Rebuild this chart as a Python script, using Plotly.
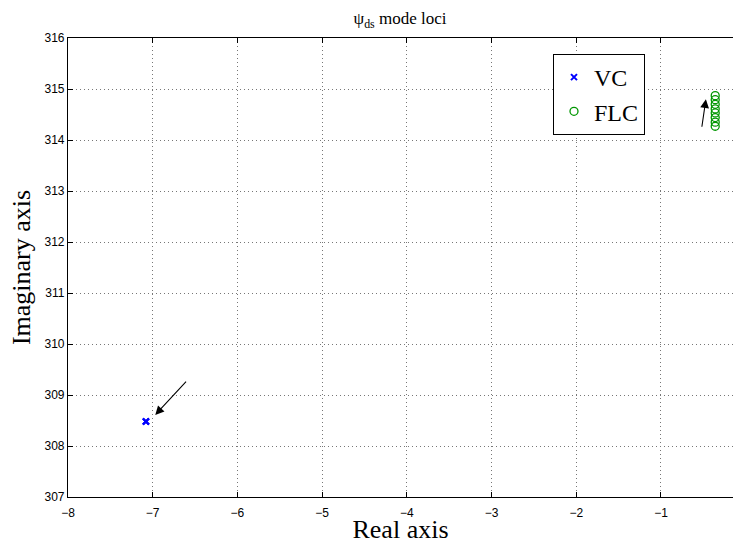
import plotly.graph_objects as go

# Data
vc_real = [-7.08, -7.08, -7.08]
vc_imag = [308.48, 308.48, 308.48]
flc_real = [-0.36] * 8
flc_imag = [314.87, 314.79, 314.70, 314.61, 314.53, 314.44, 314.35, 314.27]
x_ticks = [-8, -7, -6, -5, -4, -3, -2, -1]
y_ticks = [307, 308, 309, 310, 311, 312, 313, 314, 315, 316]

serif = "Liberation Serif, Times New Roman, serif"
sans = "Liberation Sans, Arial, sans-serif"

fig = go.Figure()
fig.add_trace(go.Scatter(x=vc_real, y=vc_imag, mode="markers", name="VC",
                         marker=dict(symbol="x-thin", size=6, color="blue",
                                     line=dict(width=2, color="blue"))))
fig.add_trace(go.Scatter(x=flc_real, y=flc_imag, mode="markers", name="FLC",
                         marker=dict(symbol="circle-open", size=8, color="rgb(0,150,0)",
                                     line=dict(width=1.3, color="rgb(0,150,0)"))))

# arrows
fig.add_annotation(x=-6.97, y=308.61, ax=-6.59, ay=309.29, xref="x", yref="y",
                   axref="x", ayref="y", showarrow=True, arrowhead=2, arrowsize=1.6,
                   arrowwidth=1.1, arrowcolor="black", text="")
fig.add_annotation(x=-0.47, y=314.80, ax=-0.52, ay=314.23, xref="x", yref="y",
                   axref="x", ayref="y", showarrow=True, arrowhead=2, arrowsize=1.6,
                   arrowwidth=1.1, arrowcolor="black", text="")

fig.update_layout(
    width=733, height=544,
    margin=dict(l=68, r=0, t=38, b=47),
    plot_bgcolor="white", paper_bgcolor="white",
    title=dict(text="ψ<sub>ds</sub> mode loci", x=400/733, xanchor="center",
               y=1 - 24/544, yanchor="bottom",
               font=dict(family=serif, size=17, color="black")),
    legend=dict(x=(553-68)/665, y=(497-54)/459, xanchor="left", yanchor="top",
                bordercolor="black", borderwidth=1, bgcolor="white",
                font=dict(family=serif, size=24, color="black"),
                itemwidth=30, tracegroupgap=0),
    showlegend=True,
)
fig.update_xaxes(range=[-8, -0.15], tickvals=x_ticks, ticktext=["−" + str(abs(v)) for v in x_ticks],
                 showgrid=True, gridcolor="#777777", griddash="1px,3px", gridwidth=1,
                 zeroline=False, showline=True, linecolor="black", linewidth=1.2,
                 mirror="ticks", ticks="inside", ticklen=5, tickcolor="black",
                 ticklabelstandoff=4,
                 tickfont=dict(family=sans, size=12, color="black"),
                 title=dict(text="Real axis", font=dict(family=serif, size=26, color="black"),
                            standoff=3))
fig.update_yaxes(range=[307, 316], tickvals=y_ticks,
                 showgrid=True, gridcolor="#777777", griddash="1px,3px", gridwidth=1,
                 zeroline=False, showline=True, linecolor="black", linewidth=1.2,
                 ticks="inside", ticklen=5, tickcolor="black",
                 tickfont=dict(family=sans, size=12, color="black"),
                 title=dict(text="Imaginary axis", font=dict(family=serif, size=26, color="black"),
                            standoff=6))
fig.write_html("out.html")
